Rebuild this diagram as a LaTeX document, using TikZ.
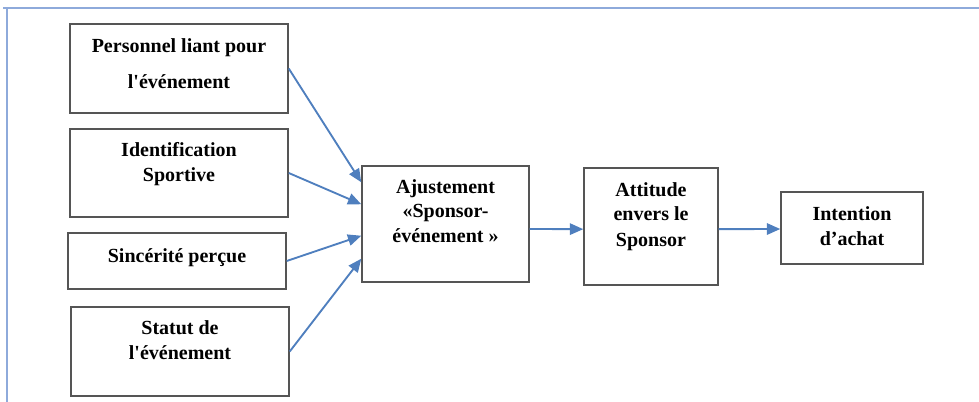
\documentclass[tikz,border=0pt]{standalone}
\usepackage{fontspec}
\setmainfont{Liberation Serif}
\usetikzlibrary{arrows.meta}
\definecolor{boxgray}{HTML}{555555}
\definecolor{arrowblue}{HTML}{4F7FBE}
\definecolor{frameblue}{HTML}{8EAADB}
\begin{document}
\begin{tikzpicture}[x=0.75pt,y=-0.75pt,
  box/.style 2 args={draw=boxgray, line width=1.1pt, inner sep=0pt,
    minimum width=#1*0.75pt, minimum height=#2*0.75pt},
  lbl/.style={font=\bfseries\fontsize{15}{18}\selectfont, anchor=base, inner sep=0pt},
  link/.style={draw=arrowblue, line width=1.4pt,
    -{Triangle[length=10pt,width=8.5pt]}}]
\useasboundingbox (0,0) rectangle (979,402);

% page frame
\draw[frameblue, line width=1.6pt] (3,8) -- (979,8);
\draw[frameblue, line width=1.6pt] (7,8) -- (7,402);

% boxes
\node[box={218}{89}]  (b1) at (179,68.5) {};
\node[box={218}{88}]  (b2) at (179,173) {};
\node[box={218}{56}]  (b3) at (177,261) {};
\node[box={218}{89}]  (b4) at (180,351.5) {};
\node[box={167}{116}] (b5) at (445.5,224) {};
\node[box={134}{117}] (b6) at (651,226.5) {};
\node[box={142}{72}]  (b7) at (852,228) {};

% labels
\node[lbl] (t1a) at (179,53) {Personnel liant pour};
\node[lbl] (t1b) at (179,89) {l\textquotesingle événement};
\node[lbl] (t2a) at (179,157) {Identification};
\node[lbl] (t2b) at (179,182) {Sportive};
\node[lbl] (t3)  at (177,263) {Sincérité perçue};
\node[lbl] (t4a) at (180,335) {Statut de};
\node[lbl] (t4b) at (180,360) {l\textquotesingle événement};
\node[lbl] (t5a) at (445.5,194) {Ajustement};
\node[lbl] (t5b) at (445.5,218) {«Sponsor-};
\node[lbl] (t5c) at (445.5,243) {événement »};
\node[lbl] (t6a) at (651,197) {Attitude};
\node[lbl] (t6b) at (651,221) {envers le};
\node[lbl] (t6c) at (651,247) {Sponsor};
\node[lbl] (t7a) at (852,221) {Intention};
\node[lbl] (t7b) at (852,246) {d’achat};

% connectors
\draw[link] (b1.east) -- ([yshift=-12.75pt]b5.north west);
\draw[link] (b2.east) -- ([yshift=-29.25pt]b5.north west);
\draw[link] (b3.east) -- ([yshift=35.25pt]b5.south west);
\draw[link] (b4.east) -- ([yshift=18pt]b5.south west);
\draw[link] ([yshift=-3.75pt]b5.east) -- ([yshift=-2pt]b6.west);
\draw[link] ([yshift=-2pt]b6.east) -- ([yshift=-0.75pt]b7.west);
\end{tikzpicture}
\end{document}
